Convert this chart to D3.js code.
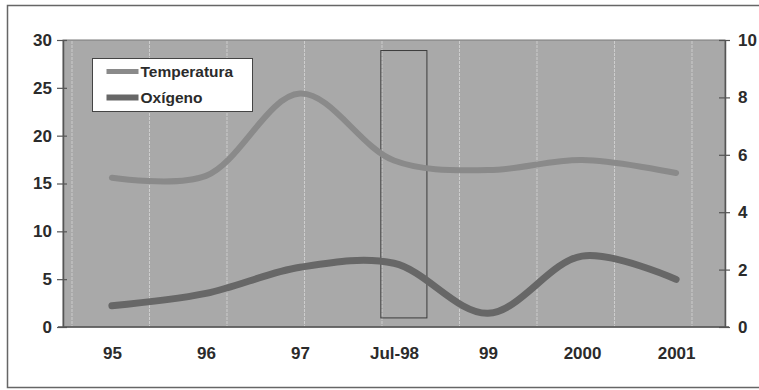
<!DOCTYPE html>
<html>
<head>
<meta charset="utf-8">
<script src="https://cdn.jsdelivr.net/npm/d3@7/dist/d3.min.js"></script>
<style>
  html, body { margin: 0; padding: 0; background: #fff; }
  svg { display: block; }
  text { font-family: "Liberation Sans", Arial, sans-serif; }
</style>
</head>
<body>
<svg id="chart" width="759" height="390"></svg>
<script>
// Categories along the bottom axis
const categories = ["95", "96", "97", "Jul-98", "99", "2000", "2001"];

// Series values
const temperatura = [15.6, 15.8, 24.4, 17.4, 16.4, 17.45, 16.1]; // left axis
const oxigeno     = [0.74, 1.17, 2.08, 2.22, 0.48, 2.47, 1.66];  // right axis

// Axis tick labels
const leftTicks  = [0, 5, 10, 15, 20, 25, 30];
const rightTicks = [0, 2, 4, 6, 8, 10];

// Highlighted period around Jul-98
const highlightCategory = "Jul-98";

const svg = d3.select("#chart");
const W = 759, H = 390;

const plot = { left: 63, top: 40, right: 725, bottom: 327 };

// Outer frame
svg.append("rect")
  .attr("x", 7.5).attr("y", 5.5)
  .attr("width", W + 10).attr("height", 382)
  .attr("fill", "#fff")
  .attr("stroke", "#666").attr("stroke-width", 1.5);

const x = d3.scalePoint()
  .domain(categories)
  .range([plot.left, plot.right])
  .padding(0.52);

const yL = d3.scaleLinear().domain([0, 30]).range([plot.bottom, plot.top]);
const yR = d3.scaleLinear().domain([0, 10]).range([plot.bottom, plot.top]);

// Plot area
svg.append("rect")
  .attr("x", plot.left).attr("y", plot.top)
  .attr("width", plot.right - plot.left)
  .attr("height", plot.bottom - plot.top)
  .attr("fill", "#a9a9a9")
  .attr("stroke", "#7a7a7a").attr("stroke-width", 1);

// Vertical background grid
const gx = d3.scaleLinear().domain([0, 8]).range([plot.left + 9, plot.right - 33]);
svg.append("g")
  .selectAll("line")
  .data(d3.range(0, 9))
  .join("line")
  .attr("x1", d => gx(d)).attr("x2", d => gx(d))
  .attr("y1", plot.top + 1).attr("y2", plot.bottom - 1)
  .attr("stroke", "#d6d6d6")
  .attr("stroke-width", 1)
  .attr("stroke-dasharray", "3,1")
  .attr("opacity", 0.8);

// Highlight box
const step = x.step();
const hx = x(highlightCategory);
svg.append("rect")
  .attr("x", hx - 0.14 * step)
  .attr("y", yL(28.9))
  .attr("width", 0.49 * step)
  .attr("height", yL(0.95) - yL(28.9))
  .attr("fill", "none")
  .attr("stroke", "#3c3c3c")
  .attr("stroke-width", 1);

// Smoothed series lines
const lineL = d3.line()
  .x((d, i) => x(categories[i]))
  .y(d => yL(d))
  .curve(d3.curveCatmullRom.alpha(0.5));

const lineR = d3.line()
  .x((d, i) => x(categories[i]))
  .y(d => yR(d))
  .curve(d3.curveCatmullRom.alpha(0.5));

const tempColor = "#8a8a8a";
const oxyColor = "#676767";

svg.append("path")
  .datum(temperatura)
  .attr("d", lineL)
  .attr("fill", "none")
  .attr("stroke", tempColor)
  .attr("stroke-width", 6)
  .attr("stroke-linecap", "round");

svg.append("path")
  .datum(oxigeno)
  .attr("d", lineR)
  .attr("fill", "none")
  .attr("stroke", oxyColor)
  .attr("stroke-width", 7)
  .attr("stroke-linecap", "round");

// Left axis
const axL = svg.append("g")
  .attr("transform", `translate(${plot.left},0)`)
  .call(d3.axisLeft(yL).tickValues(leftTicks).tickFormat(d3.format("d")).tickSizeOuter(0));
axL.select(".domain").attr("stroke", "#555").attr("stroke-width", 1.5);
axL.selectAll(".tick line").attr("x1", 4).attr("x2", -6).attr("stroke", "#555").attr("stroke-width", 1.2);
axL.selectAll(".tick text").attr("x", -11)
  .attr("font-size", 17).attr("font-weight", "bold").attr("fill", "#2b2b2b")
  .attr("font-family", "'Liberation Sans', Arial, sans-serif");

// Right axis
const axR = svg.append("g")
  .attr("transform", `translate(${plot.right},0)`)
  .call(d3.axisRight(yR).tickValues(rightTicks).tickFormat(d3.format("d")).tickSizeOuter(0));
axR.select(".domain").attr("stroke", "#555").attr("stroke-width", 1.5);
axR.selectAll(".tick line").attr("x1", -6).attr("x2", 5).attr("stroke", "#555").attr("stroke-width", 1.2);
axR.selectAll(".tick text").attr("x", 13)
  .attr("font-size", 17).attr("font-weight", "bold").attr("fill", "#2b2b2b")
  .attr("font-family", "'Liberation Sans', Arial, sans-serif");

// Bottom axis
const axB = svg.append("g")
  .attr("transform", `translate(0,${plot.bottom})`)
  .call(d3.axisBottom(x).tickSize(0).tickSizeOuter(0));
axB.select(".domain")
  .attr("d", `M${plot.left - 5},0H${plot.right + 4}`)
  .attr("stroke", "#555").attr("stroke-width", 1.5);
axB.selectAll(".tick text").attr("y", 20)
  .attr("font-size", 17).attr("font-weight", "bold").attr("fill", "#2b2b2b")
  .attr("font-family", "'Liberation Sans', Arial, sans-serif");

// Legend
const legend = svg.append("g").attr("transform", `translate(${plot.left + 29.5},${plot.top + 18.5})`);
legend.append("rect")
  .attr("width", 160).attr("height", 53)
  .attr("fill", "#fff").attr("stroke", "#444").attr("stroke-width", 1);

const legendItems = [
  { name: "Temperatura", color: tempColor, width: 5 },
  { name: "Oxígeno", color: oxyColor, width: 6 }
];
const li = legend.selectAll("g.item")
  .data(legendItems)
  .join("g")
  .attr("class", "item")
  .attr("transform", (d, i) => `translate(0,${13 + i * 26})`);
li.append("line")
  .attr("x1", 14).attr("x2", 46)
  .attr("stroke", d => d.color)
  .attr("stroke-width", d => d.width);
li.append("text")
  .attr("x", 48).attr("y", 0).attr("dy", "0.36em")
  .attr("font-size", 15.5).attr("font-weight", "bold").attr("fill", "#2b2b2b")
  .text(d => d.name);
</script>
</body>
</html>
